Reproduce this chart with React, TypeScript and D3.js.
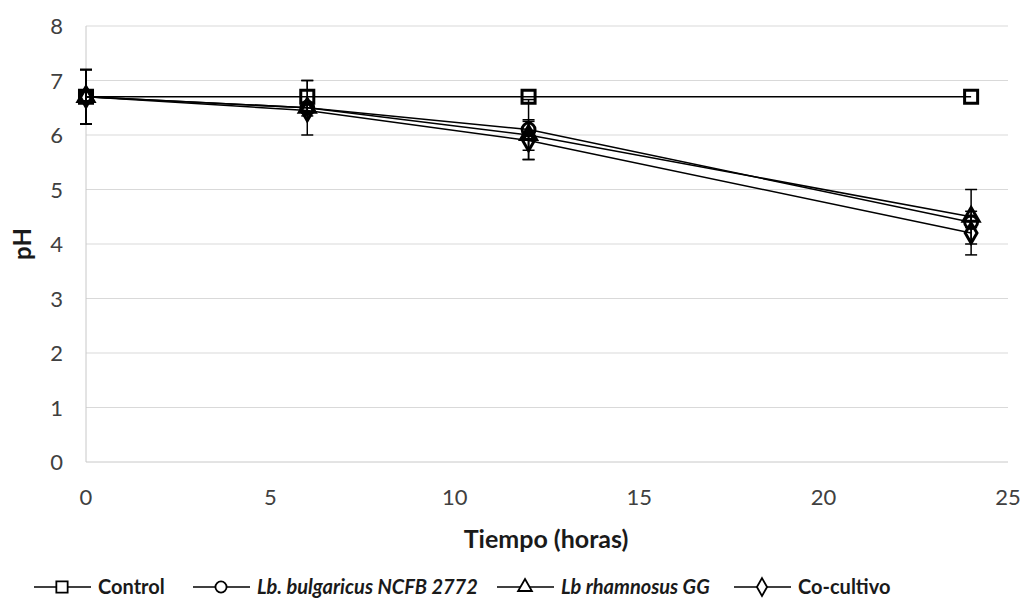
import React from "react";
import * as d3 from "d3";

// data
const hours = [0, 6, 12, 24];
const controlPh = [6.7, 6.7, 6.7, 6.7];
const controlErr = [0.5, 0.3, 0, 0];
const bulgaricusPh = [6.7, 6.5, 6.1, 4.4];
const bulgaricusErr = [0.5, 0.5, 0.55, 0.1];
const rhamnosusPh = [6.7, 6.5, 6.0, 4.5];
const rhamnosusErr = [0.5, 0.1, 0.28, 0.5];
const coPh = [6.7, 6.45, 5.9, 4.2];
const coErr = [0.5, 0.1, 0.35, 0.4];

const xTicks = [0, 5, 10, 15, 20, 25];
const yTicks = [0, 1, 2, 3, 4, 5, 6, 7, 8];

const series = [
  { name: "Control", values: controlPh, err: controlErr, shape: d3.symbolSquare, size: 170, italic: false },
  { name: "Lb. bulgaricus NCFB 2772", values: bulgaricusPh, err: bulgaricusErr, shape: d3.symbolCircle, size: 130, italic: true },
  { name: "Lb rhamnosus GG", values: rhamnosusPh, err: rhamnosusErr, shape: d3.symbolTriangle, size: 110, italic: true },
  { name: "Co-cultivo", values: coPh, err: coErr, shape: d3.symbolDiamond, size: 120, italic: false },
];

const legendX = [34, 193, 497, 734];

const FONT = "Lato, 'Open Sans', sans-serif";

export default function App() {
  const width = 1025;
  const height = 604;
  const x = d3.scaleLinear().domain([0, 25]).range([86, 1008]);
  const y = d3.scaleLinear().domain([0, 8]).range([462, 26]);
  const line = d3.line<number>().x((_, i) => x(hours[i])).y((d) => y(d));

  return (
    <svg width={width} height={height} style={{ position: "absolute", left: 0, top: 0, background: "#fff" }}>
      {/* gridlines */}
      {yTicks.map((t) => (
        <line key={"g" + t} x1={x(0)} x2={x(25)} y1={y(t)} y2={y(t)} stroke={t === 0 ? "#c8c8c8" : "#d9d9d9"} strokeWidth={1} />
      ))}
      <line x1={x(0)} x2={x(0)} y1={y(0)} y2={y(8)} stroke="#c8c8c8" strokeWidth={1} />

      {/* tick labels */}
      {yTicks.map((t) => (
        <text key={"yl" + t} x={63} y={y(t) + 8} textAnchor="end" fontFamily={FONT} fontSize={22} fill="#404040">
          {t}
        </text>
      ))}
      {xTicks.map((t) => (
        <text key={"xl" + t} x={x(t)} y={505} textAnchor="middle" fontFamily={FONT} fontSize={22} fill="#404040">
          {t}
        </text>
      ))}

      {/* axis titles */}
      <text x={546} y={548} textAnchor="middle" fontFamily={FONT} fontSize={25} fontWeight="bold" fill="#1a1a1a">
        Tiempo (horas)
      </text>
      <text transform={`translate(31,${y(4)}) rotate(-90)`} textAnchor="middle" fontFamily={FONT} fontSize={24} fontWeight="bold" fill="#1a1a1a">
        pH
      </text>

      {/* series lines */}
      {series.map((s) => (
        <path key={"l" + s.name} d={line(s.values) || ""} fill="none" stroke="#000" strokeWidth={1.5} />
      ))}

      {/* error bars */}
      {series.map((s) =>
        s.values.map((v, i) =>
          s.err[i] > 0 ? (
            <g key={"e" + s.name + i} stroke="#000" strokeWidth={1.5}>
              <line x1={x(hours[i])} x2={x(hours[i])} y1={y(v + s.err[i])} y2={y(v - s.err[i])} />
              <line x1={x(hours[i]) - 6} x2={x(hours[i]) + 6} y1={y(v + s.err[i])} y2={y(v + s.err[i])} />
              <line x1={x(hours[i]) - 6} x2={x(hours[i]) + 6} y1={y(v - s.err[i])} y2={y(v - s.err[i])} />
            </g>
          ) : null
        )
      )}

      {/* markers */}
      {series.map((s) =>
        s.values.map((v, i) => (
          <path
            key={"m" + s.name + i}
            d={d3.symbol(s.shape, s.size)() || ""}
            transform={`translate(${x(hours[i])},${y(v)})`}
            fill="none"
            stroke="#000"
            strokeWidth={3}
          />
        ))
      )}

      {/* legend */}
      {series.map((s, i) => (
        <g key={"lg" + s.name} transform={`translate(${legendX[i]},587)`}>
          <line x1={0} x2={57} y1={0} y2={0} stroke="#000" strokeWidth={1.5} />
          <path d={d3.symbol(s.shape, s.size * 0.75)() || ""} transform="translate(28,0)" fill="#fff" stroke="#000" strokeWidth={1.8} />
          <text x={64} y={7} fontFamily={FONT} fontSize={20} fontWeight="bold" fontStyle={s.italic ? "italic" : "normal"} fill="#1a1a1a">
            {s.name}
          </text>
        </g>
      ))}
    </svg>
  );
}
